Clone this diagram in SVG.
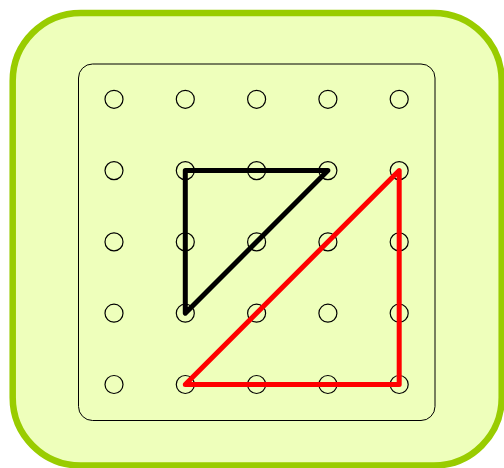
<svg xmlns="http://www.w3.org/2000/svg" width="504" height="468" viewBox="0 0 504 468">
<style>
.peg{fill:none;stroke:#000;stroke-width:1.2}
.band{fill:none;stroke-width:5;stroke-linejoin:round;stroke-linecap:round}
</style>
<g id="board">
<rect x="12.7" y="13" width="489" height="452.5" rx="68" ry="68" fill="#eeffbb" stroke="#99cc00" stroke-width="6.5"/>
<rect x="78.5" y="64" width="356.5" height="356.5" rx="14" ry="14" fill="none" stroke="#000" stroke-width="1"/>
</g>
<g id="pegs">
<circle class="peg" cx="114" cy="99.3" r="9"/><circle class="peg" cx="185.3" cy="99.3" r="9"/><circle class="peg" cx="256.6" cy="99.3" r="9"/><circle class="peg" cx="327.9" cy="99.3" r="9"/><circle class="peg" cx="399.2" cy="99.3" r="9"/>
<circle class="peg" cx="114" cy="170.6" r="9"/><circle class="peg" cx="185.3" cy="170.6" r="9"/><circle class="peg" cx="256.6" cy="170.6" r="9"/><circle class="peg" cx="327.9" cy="170.6" r="9"/><circle class="peg" cx="399.2" cy="170.6" r="9"/>
<circle class="peg" cx="114" cy="241.9" r="9"/><circle class="peg" cx="185.3" cy="241.9" r="9"/><circle class="peg" cx="256.6" cy="241.9" r="9"/><circle class="peg" cx="327.9" cy="241.9" r="9"/><circle class="peg" cx="399.2" cy="241.9" r="9"/>
<circle class="peg" cx="114" cy="313.2" r="9"/><circle class="peg" cx="185.3" cy="313.2" r="9"/><circle class="peg" cx="256.6" cy="313.2" r="9"/><circle class="peg" cx="327.9" cy="313.2" r="9"/><circle class="peg" cx="399.2" cy="313.2" r="9"/>
<circle class="peg" cx="114" cy="384.5" r="9"/><circle class="peg" cx="185.3" cy="384.5" r="9"/><circle class="peg" cx="256.6" cy="384.5" r="9"/><circle class="peg" cx="327.9" cy="384.5" r="9"/><circle class="peg" cx="399.2" cy="384.5" r="9"/>
</g>
<g id="bands">
<polygon class="band" stroke="#000" points="185.3,170.6 327.9,170.6 185.3,313.2"/>
<polygon class="band" stroke="#ff0000" points="185.3,384.5 399.2,170.6 399.2,384.5"/>
</g>
</svg>
